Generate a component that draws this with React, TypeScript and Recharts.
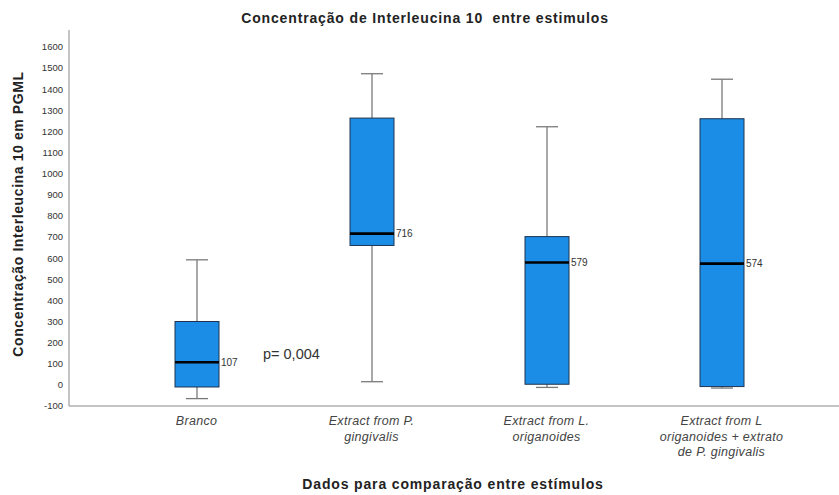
import React from "react";
import { ComposedChart, Bar, XAxis, YAxis } from "recharts";

const categories = [
  "Branco",
  "Extract from P. gingivalis",
  "Extract from L. origanoides",
  "Extract from L origanoides + extrato de P. gingivalis",
];
const categoryLines = [
  ["Branco"],
  ["Extract from P.", "gingivalis"],
  ["Extract from L.", "origanoides"],
  ["Extract from L", "origanoides + extrato", "de P. gingivalis"],
];
const whiskerLow = [-65, 15, -12, -15];
const q1 = [-10, 660, 3, -8];
const median = [107, 716, 579, 574];
const q3 = [300, 1263, 702, 1260];
const whiskerHigh = [592, 1473, 1222, 1447];
const yTicks = [-100, 0, 100, 200, 300, 400, 500, 600, 700, 800, 900, 1000, 1100, 1200, 1300, 1400, 1500, 1600];

const data = categories.map((name, i) => ({
  name,
  lines: categoryLines[i],
  low: whiskerLow[i],
  q1: q1[i],
  median: median[i],
  q3: q3[i],
  high: whiskerHigh[i],
}));

const FONT = "'Liberation Sans', Arial, sans-serif";

const BoxShape = (props: any) => {
  const { x, y, width, height, payload } = props;
  if (!payload) return null;
  const top = Math.min(y, y + height);
  const bottom = Math.max(y, y + height);
  const ppu = (bottom - top) / (payload.high - payload.low);
  const toY = (v: number) => bottom - (v - payload.low) * ppu;
  const cx = x + width / 2;
  const capHalf = width / 4;
  const yQ1 = toY(payload.q1);
  const yQ3 = toY(payload.q3);
  const yMed = toY(payload.median);
  const yLow = toY(payload.low);
  const yHigh = toY(payload.high);
  return (
    <g>
      <line x1={cx} x2={cx} y1={yHigh} y2={yQ3} stroke="#7a7a7a" strokeWidth={1.3} />
      <line x1={cx} x2={cx} y1={yQ1} y2={yLow} stroke="#7a7a7a" strokeWidth={1.3} />
      <line x1={cx - capHalf} x2={cx + capHalf} y1={yHigh} y2={yHigh} stroke="#7a7a7a" strokeWidth={1.3} />
      <line x1={cx - capHalf} x2={cx + capHalf} y1={yLow} y2={yLow} stroke="#7a7a7a" strokeWidth={1.3} />
      <rect x={x} y={yQ3} width={width} height={yQ1 - yQ3} fill="#1C8DE6" stroke="#1d3550" strokeWidth={1} />
      <line x1={x} x2={x + width} y1={yMed} y2={yMed} stroke="#000" strokeWidth={2.6} />
      <text x={x + width + 2} y={yMed} dy={3.5} fontSize={10} fill="#333" fontFamily={FONT}>
        {payload.median}
      </text>
    </g>
  );
};

const CategoryTick = (props: any) => {
  const { x, y, payload, index } = props;
  const lines = categoryLines[index] ?? [String(payload.value)];
  return (
    <g>
      {lines.map((ln: string, i: number) => (
        <text
          key={i}
          x={x}
          y={y + 11 + i * 15.5}
          textAnchor="middle"
          fontSize={12.5}
          fontStyle="italic"
          fill="#444"
          fontFamily={FONT}
          style={{ letterSpacing: 0.3 }}
        >
          {ln}
        </text>
      ))}
    </g>
  );
};

const titleStyle: React.CSSProperties = { whiteSpace: "pre", letterSpacing: 0.85 };

export default function App() {
  return (
    <div style={{ position: "absolute", left: 0, top: 0, width: 839, height: 495, background: "#fff" }}>
      <ComposedChart
        width={839}
        height={495}
        data={data}
        margin={{ top: 30, right: 0, bottom: 0, left: 0 }}
      >
        <XAxis
          dataKey="name"
          height={89}
          tickLine={false}
          axisLine={{ stroke: "#8a8a8a" }}
          tick={<CategoryTick />}
          padding={{ left: 40, right: 30 }}
          interval={0}
        />
        <YAxis
          type="number"
          domain={[-100, 1680]}
          ticks={yTicks}
          width={69}
          tickLine={false}
          tickSize={4}
          tickMargin={2}
          axisLine={{ stroke: "#8a8a8a" }}
          tick={{ fontSize: 9.5, fill: "#333", fontFamily: FONT }}
          interval={0}
        />
        <Bar
          dataKey={(d: any) => [d.low, d.high]}
          barSize={44}
          shape={<BoxShape />}
          isAnimationActive={false}
        />
      </ComposedChart>
      <svg
        width={839}
        height={495}
        style={{ position: "absolute", left: 0, top: 0, pointerEvents: "none" }}
      >
        <text x={425} y={23} textAnchor="middle" fontSize={14} fontWeight="bold" fill="#222" fontFamily={FONT} style={titleStyle}>
          Concentração de Interleucina 10  entre estimulos
        </text>
        <text
          x={23}
          y={214}
          transform="rotate(-90 23 214)"
          textAnchor="middle"
          fontSize={14}
          fontWeight="bold"
          fill="#222"
          fontFamily={FONT}
          style={{ letterSpacing: 0.6 }}
        >
          Concentração Interleucina 10 em PGML
        </text>
        <text x={453} y={489} textAnchor="middle" fontSize={14} fontWeight="bold" fill="#222" fontFamily={FONT} style={{ letterSpacing: 0.85 }}>
          Dados para comparação entre estímulos
        </text>
        <text x={263} y={359} fontSize={14.5} fill="#333" fontFamily={FONT}>
          p= 0,004
        </text>
      </svg>
    </div>
  );
}
